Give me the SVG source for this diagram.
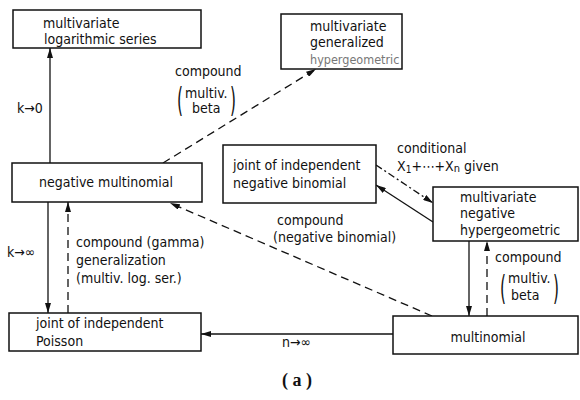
<svg xmlns="http://www.w3.org/2000/svg" width="580" height="400" viewBox="0 0 580 400">
<defs>
<marker id="ah" markerWidth="10" markerHeight="6" refX="10" refY="3" orient="auto" markerUnits="userSpaceOnUse">
<path d="M0,0 L10,3 L0,6 z" fill="#111"/>
</marker>
<style>
.box{fill:#fff;stroke:#111;stroke-width:1.5}
.t{font-family:"DejaVu Sans Condensed","DejaVu Sans",sans-serif;font-size:14px;fill:#111}
.ln{stroke:#111;stroke-width:1.3;fill:none}
.ds{stroke-dasharray:8 5}
.dd{stroke-dasharray:7 3 2 3}
.par{font-family:"DejaVu Sans Condensed","DejaVu Sans",sans-serif;font-size:34px;fill:#111}
.cap{font-family:"Liberation Serif",serif;font-size:18px;font-weight:bold;fill:#111}
</style>
</defs>
<rect width="580" height="400" fill="#fff"/>

<g id="connectors">
<line class="ln" x1="50" y1="163" x2="50" y2="48" marker-end="url(#ah)"/>
<line class="ln" x1="48" y1="202" x2="48" y2="313" marker-end="url(#ah)"/>
<line class="ln ds" x1="68" y1="313" x2="68" y2="202" marker-end="url(#ah)"/>
<line class="ln ds" x1="163" y1="163" x2="316" y2="69" marker-end="url(#ah)"/>
<line class="ln ds" x1="432" y1="316" x2="170" y2="203" marker-end="url(#ah)"/>
<line class="ln" x1="393" y1="334" x2="201" y2="334" marker-end="url(#ah)"/>
<line class="ln" x1="469" y1="241" x2="469" y2="316" marker-end="url(#ah)"/>
<line class="ln ds" x1="487" y1="316" x2="487" y2="241" marker-end="url(#ah)"/>
<line class="ln dd" x1="376" y1="165" x2="433" y2="203" marker-end="url(#ah)"/>
<line class="ln" x1="433" y1="222" x2="376" y2="185" marker-end="url(#ah)"/>
</g>

<g id="labels">
<text class="t" x="17" y="113">k→0</text>
<text class="t" x="175" y="76">compound</text>
<text class="par" x="177" y="112" transform="translate(177,0) scale(0.5,1) translate(-177,0)">(</text>
<text class="t" x="185" y="98">multiv.</text>
<text class="t" x="192" y="113">beta</text>
<text class="par" x="230" y="112" transform="translate(230,0) scale(0.5,1) translate(-230,0)">)</text>

<text class="t" x="7" y="257">k→∞</text>
<text class="t" x="76" y="247">compound  (gamma)</text>
<text class="t" x="76" y="265">generalization</text>
<text class="t" x="76" y="283">(multiv. log. ser.)</text>

<text class="t" x="397" y="153">conditional</text>
<text class="t" x="397" y="171">X<tspan font-size="10" dy="2">1</tspan><tspan dy="-2">+⋯+X</tspan><tspan font-size="11" dy="1">n</tspan><tspan dy="-1">  given</tspan></text>

<text class="t" x="277" y="225">compound</text>
<text class="t" x="273" y="242">(negative binomial)</text>

<text class="t" x="495" y="262">compound</text>
<text class="par" x="500" y="300" transform="translate(500,0) scale(0.5,1) translate(-500,0)">(</text>
<text class="t" x="508" y="283">multiv.</text>
<text class="t" x="511" y="300">beta</text>
<text class="par" x="553" y="300" transform="translate(553,0) scale(0.5,1) translate(-553,0)">)</text>

<text class="t" x="282" y="347">n→∞</text>
<text class="cap" x="282" y="386">( a )</text>
</g>

<g id="mv-log-series">
<rect class="box" x="13" y="10" width="188" height="38"/>
<text class="t" x="43" y="28">multivariate</text>
<text class="t" x="44" y="44">logarithmic series</text>
</g>

<g id="mv-gen-hypergeometric">
<rect class="box" x="281" y="14" width="121" height="55"/>
<text class="t" x="310" y="31">multivariate</text>
<text class="t" x="310" y="47">generalized</text>
<text class="t" x="310" y="64" style="fill:#777;font-size:12.5px">hypergeometric</text>
</g>

<g id="negative-multinomial">
<rect class="box" x="12" y="163" width="190" height="39"/>
<text class="t" x="106" y="187" text-anchor="middle">negative multinomial</text>
</g>

<g id="joint-neg-binomial">
<rect class="box" x="223" y="145" width="153" height="58"/>
<text class="t" x="233" y="170">joint of independent</text>
<text class="t" x="233" y="188">negative binomial</text>
</g>

<g id="mv-neg-hypergeometric">
<rect class="box" x="433" y="187" width="145" height="54"/>
<text class="t" x="460" y="202">multivariate</text>
<text class="t" x="460" y="218">negative</text>
<text class="t" x="460" y="235">hypergeometric</text>
</g>

<g id="joint-poisson">
<rect class="box" x="9" y="313" width="192" height="38"/>
<text class="t" x="36" y="328">joint of independent</text>
<text class="t" x="36" y="346">Poisson</text>
</g>

<g id="multinomial">
<rect class="box" x="393" y="316" width="185" height="38"/>
<text class="t" x="488" y="342" text-anchor="middle">multinomial</text>
</g>
</svg>
